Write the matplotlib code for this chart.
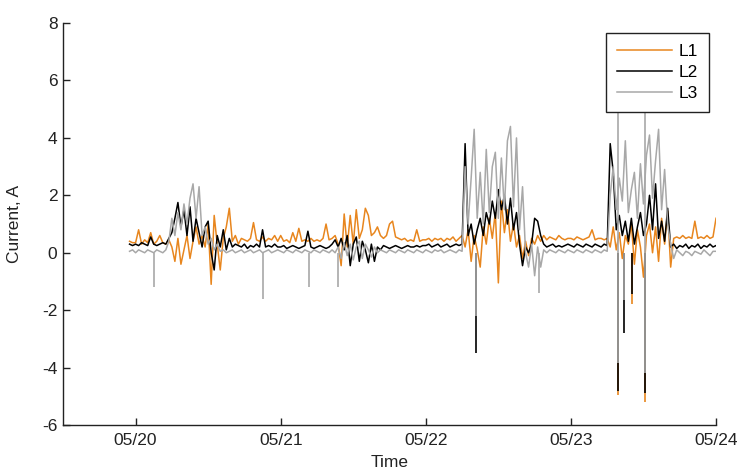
import numpy as np
import matplotlib
matplotlib.use("Agg")
import matplotlib.pyplot as plt
import matplotlib.dates as mdates

plt.rcParams['font.family'] = ['Liberation Sans', 'DejaVu Sans']
plt.rcParams['axes.unicode_minus'] = False

# sample times: 30 min steps from 05/19 23:00 to 05/24 00:00
t_start = np.datetime64('2014-05-19T23:00')
t_step = np.timedelta64(30, 'm')

# L1 current (A), one row per day
l1 = [0.4, 0.35,
      # 05/20
      0.35, 0.8, 0.3, 0.45, 0.35, 0.7, 0.3, 0.4, 0.6, 0.35, 0.3, 0.45,
      0.2, -0.3, 0.5, -0.4, 0.1, 0.6, -0.2, 0.4, 0.9, 0.3,
      0.6, 0.2, 1.0, -1.1, 1.3, 0.3, -0.6, 0.5, 0.9, 1.55, 0.4, 0.6, 0.3, 0.5,
      0.45, 0.4, 0.5, 1.05, 0.45, 0.4, 0.55, 0.4, 0.5, 0.45, 0.6, 0.4,
      # 05/21
      0.6, 0.4, 0.45, 0.35, 0.7, 0.4, 0.85, 0.4, 0.45, 0.4, 0.5, 0.4,
      0.45, 0.4, 0.5, 1.0, 0.45, 0.5, 0.6, 0.3, -0.45, 1.35, 0.2, 1.3,
      0.3, 1.5, 0.5, 0.8, 1.55, 1.3, 0.6, 0.7, 0.9, 0.6, 0.5, 0.6,
      1.0, 1.1, 0.55, 0.5, 0.45, 0.5, 0.4, 0.45, 0.4, 0.8, 0.4, 0.45,
      # 05/22
      0.45, 0.5, 0.4, 0.5, 0.45, 0.5, 0.4, 0.5, 0.45, 0.55, 0.4, 0.5,
      0.6, 0.2, 0.8, -0.3, 0.6, 0.1, -0.5, 0.9, 0.3, 1.2, 0.5, 1.4,
      -1.05, 1.8, 0.7, 1.5, 0.4, 1.0, 0.2, 0.6, -0.2, 0.4, -0.1, 0.5,
      0.3, 0.6, 0.4, 0.6, 0.45, 0.55, 0.5, 0.45, 0.6, 0.5, 0.45, 0.5,
      # 05/23
      0.5, 0.45, 0.55, 0.5, 0.45, 0.5, 0.55, 0.8, 0.45, 0.5, 0.5, 0.45,
      0.5, 0.2, 0.9, 0.1, 0.7, -0.2, 0.6, 0.3, 1.0, -0.4, 0.8, 0.2,
      -0.85, 0.6, 1.0, 0.0, 0.9, -0.3, 1.2, 0.3, 1.45, -0.5, 0.5, 0.55,
      0.5, 0.6, 0.5, 0.55, 0.5, 1.1, 0.5, 0.55, 0.5, 0.6, 0.5, 0.55,
      1.2]

# L2 current (A)
l2 = [0.3, 0.25,
      # 05/20
      0.3, 0.25, 0.35, 0.3, 0.25, 0.55, 0.3, 0.25, 0.3, 0.35, 0.3, 0.5,
      0.7, 1.2, 1.75, 0.9, 1.5, 0.6, 1.6, 0.4, 1.2, 0.7, 0.2, 0.9,
      1.1, 0.0, -0.6, 0.6, 0.2, 0.8, 0.1, 0.5, 0.2, 0.3, 0.25, 0.2,
      0.3, 0.15, 0.25, 0.2, 0.3, 0.2, 0.8, 0.2, 0.25, 0.2, 0.3, 0.2,
      # 05/21
      0.2, 0.25, 0.15, 0.2, 0.25, 0.2, 0.15, 0.2, 0.25, 0.75, 0.2, 0.15,
      0.2, 0.25, 0.2, 0.15, 0.2, 0.3, 0.45, 0.2, 0.5, 0.1, 0.6, -0.45,
      0.3, 0.55, -0.3, 0.4, 0.1, -0.35, 0.3, -0.3, 0.2, 0.1, 0.25, 0.2,
      0.15, 0.2, 0.25, 0.2, 0.15, 0.2, 0.25, 0.2, 0.2, 0.25, 0.2, 0.25,
      # 05/22
      0.25, 0.3, 0.2, 0.25, 0.3, 0.2, 0.25, 0.3, 0.2, 0.25, 0.3, 0.25,
      0.3, 3.8, 0.6, 1.0, 0.3, 0.8, 1.2, 0.6, 1.4, 1.0, 1.8, 1.2,
      2.2, 1.5, 2.0, 1.0, 1.9, 0.8, 1.4, 0.3, -0.45, 0.2, 0.0, 0.3,
      1.2, 1.1, 0.6, 0.3, 0.2, 0.25, 0.3, 0.2, 0.25, 0.2, 0.25, 0.3,
      # 05/23
      0.25, 0.2, 0.3, 0.25, 0.2, 0.3, 0.25, 0.2, 0.3, 0.25, 0.2, 0.3,
      0.25, 3.8, 2.8, 0.8, 1.3, 0.6, 1.1, 0.4, 1.2, 0.3, 0.9, 1.4,
      0.6, 1.0, 2.0, 0.8, 2.4, 0.5, 1.1, 0.4, 1.55, 0.2, 0.3, 0.15,
      0.25, 0.2, 0.3, 0.15, 0.25, 0.2, 0.3, 0.15, 0.25, 0.2, 0.3, 0.2,
      0.25]

# L3 current (A)
l3 = [0.05, 0.1,
      # 05/20
      0.0, 0.1, 0.05, 0.0, 0.1, 0.05, 0.0, 0.1, 0.05, 0.0, 0.1, 0.4,
      1.2, 0.6, 1.4, 0.8, 1.7, 1.0, 1.9, 2.4, 1.2, 2.3, 0.6, 0.9,
      0.3, 0.5, 0.1, 0.3, 0.05, 0.1, 0.0, 0.05, 0.1, 0.0, 0.05, 0.1,
      0.0, 0.05, 0.1, 0.0, 0.05, 0.1, 0.0, 0.05, 0.1, 0.0, 0.05, 0.1,
      # 05/21
      0.05, 0.0, 0.1, 0.05, 0.0, 0.1, 0.05, 0.0, 0.1, 0.05, 0.0, 0.1,
      0.05, 0.0, 0.1, 0.05, 0.0, 0.1, 0.0, 0.2, -0.2, 0.35, -0.1, 0.3,
      -0.25, 0.2, 0.4, -0.2, 0.3, 0.1, -0.15, 0.2, 0.0, 0.1, 0.05, 0.0,
      0.1, 0.05, 0.0, 0.1, 0.05, 0.0, 0.1, 0.05, 0.0, 0.1, 0.05, 0.0,
      # 05/22
      0.1, 0.05, 0.0, 0.1, 0.05, 0.1, 0.0, 0.05, 0.1, 0.05, 0.0, 0.1,
      0.05, 3.0, 1.0, 2.6, 4.3, 1.2, 2.8, 1.0, 3.6, 1.4, 3.0, 3.5,
      1.2, 3.3, 1.5, 3.9, 4.4, 1.6, 4.0, 0.8, 2.3, 0.0, -0.5, 0.3,
      -0.8, 0.2, -0.5, 0.1, 0.0, 0.1, 0.05, 0.0, 0.1, 0.05, 0.0, 0.1,
      # 05/23
      0.05, 0.0, 0.1, 0.05, 0.0, 0.1, 0.05, 0.0, 0.1, 0.05, 0.0, 0.1,
      0.05, 2.0, 3.0, 1.5, 2.6, 1.8, 3.9, 1.4, 2.2, 2.8, 1.2, 3.1,
      1.7, 3.4, 4.1, 1.9, 3.2, 4.3, 1.5, 2.9, 1.0, 0.3, -0.2, 0.1,
      0.0, -0.1, 0.05, 0.0, -0.1, 0.05, 0.0, -0.05, 0.1, 0.0, -0.1, 0.05,
      0.05]

# short transients (time, peak value) per phase
l1_spike_t = ['2014-05-23T07:45', '2014-05-23T10:05', '2014-05-23T12:15']
l1_spike_v = [-4.95, -1.8, -5.2]
l2_spike_t = ['2014-05-22T08:15', '2014-05-23T07:45', '2014-05-23T08:45',
              '2014-05-23T10:05', '2014-05-23T12:15']
l2_spike_v = [-3.5, -4.8, -2.8, -1.45, -4.9]
l3_spike_t = ['2014-05-20T03:00', '2014-05-20T21:00', '2014-05-21T04:45',
              '2014-05-21T09:30', '2014-05-22T08:15', '2014-05-22T18:40',
              '2014-05-23T07:45', '2014-05-23T07:45', '2014-05-23T08:45',
              '2014-05-23T12:15', '2014-05-23T12:15']
l3_spike_v = [-1.2, -1.6, -1.2, -1.2, -2.2, -1.4, -3.85, 5.5, -1.65, -4.2, 5.5]

x_ticks = ['2014-05-20', '2014-05-21', '2014-05-22', '2014-05-23', '2014-05-24']
y_ticks = [-6, -4, -2, 0, 2, 4, 6, 8]

c1 = '#E8861E'
c2 = '#000000'
c3 = '#A8A8A8'

t = t_start + t_step * np.arange(len(l1))
t = t.astype('datetime64[m]').astype(object)

def to_dt(lst):
    return np.array(lst, dtype='datetime64[m]').astype(object)

fig = plt.figure(figsize=(7.39, 4.73), dpi=100)
ax = fig.add_axes([0.0853, 0.1015, 0.8836, 0.8497])

ax.plot(t, l1, color=c1, lw=1.1, label='L1')
ax.vlines(to_dt(l1_spike_t), 0, l1_spike_v, color=c1, lw=1.2)
ax.plot(t, l2, color=c2, lw=1.1, label='L2')
ax.vlines(to_dt(l2_spike_t), 0, l2_spike_v, color=c2, lw=1.2)
ax.plot(t, l3, color=c3, lw=1.1, label='L3')
ax.vlines(to_dt(l3_spike_t), 0, l3_spike_v, color=c3, lw=1.2)

ax.set_xlim(np.datetime64('2014-05-19T12:00').astype(object),
            np.datetime64('2014-05-24T00:00').astype(object))
ax.set_ylim(-6, 8)
ax.set_xticks(to_dt(x_ticks))
ax.xaxis.set_major_formatter(mdates.DateFormatter('%m/%d'))
ax.set_yticks(y_ticks)

for s in ['top', 'right']:
    ax.spines[s].set_visible(False)
for s in ['left', 'bottom']:
    ax.spines[s].set_linewidth(1.0)
    ax.spines[s].set_color('#222222')

ax.tick_params(direction='in', length=5, width=1, labelsize=12.5,
               colors='#222222')
ax.tick_params(axis='y', pad=4)
ax.tick_params(axis='x', pad=6)

ax.set_xlabel('Time', fontsize=12.5, color='#222222')
ax.set_ylabel('Current, A', fontsize=12.5, color='#222222')
ax.xaxis.set_label_coords(0.5, -0.075)
ax.yaxis.set_label_coords(-0.063, 0.5)

leg = ax.legend(loc='upper right', bbox_to_anchor=(0.989, 0.975),
                fontsize=12.5, fancybox=False, framealpha=1,
                edgecolor='#222222', handlelength=3.2, handletextpad=0.4,
                borderpad=0.6, labelspacing=0.35, borderaxespad=0)
leg.get_frame().set_linewidth(1.0)

fig.savefig('out.png', dpi=100)
